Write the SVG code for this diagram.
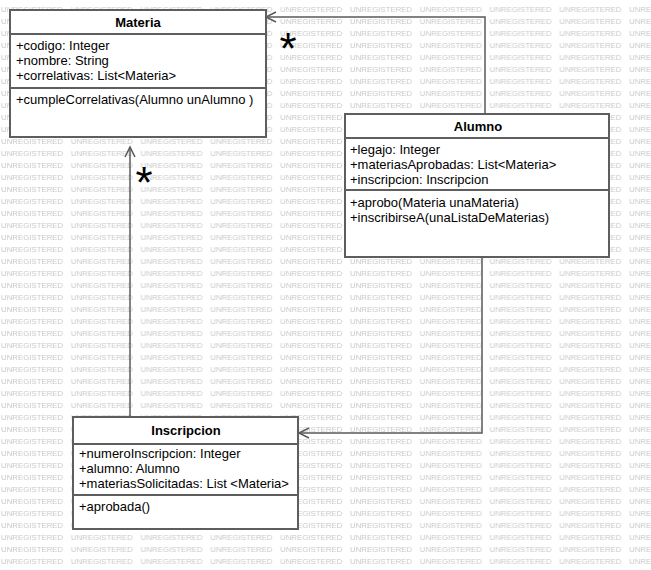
<svg xmlns="http://www.w3.org/2000/svg" width="651" height="570" viewBox="0 0 651 570">
<style>
.wm{font-family:"Liberation Sans",Arial,sans-serif;font-size:8px;fill:#c8c8c8}
.box{fill:#ffffff;stroke:#5e5e5e;stroke-width:2}
.sep{stroke:#5e5e5e;stroke-width:2;fill:none}
.t{font-family:"Liberation Sans",Arial,sans-serif;font-size:13px;fill:#000}
.title{font-family:"Liberation Sans",Arial,sans-serif;font-size:13px;font-weight:bold;fill:#000;text-anchor:middle}
.con{stroke:#5a5a5a;stroke-width:1.5;fill:none}
.star{font-family:"Liberation Sans",Arial,sans-serif;font-size:44px;fill:#000;text-anchor:middle}
</style>
<defs>
<pattern id="wmp" patternUnits="userSpaceOnUse" x="0" y="0" width="69.8" height="12">
<text class="wm" x="1" y="11.5" textLength="62" lengthAdjust="spacingAndGlyphs">UNREGISTERED</text>
</pattern>
</defs>
<rect x="0" y="0" width="651" height="570" fill="#ffffff"/>
<rect x="0" y="0" width="651" height="570" fill="url(#wmp)"/>
<g id="connectors">
<path class="con" d="M485,114 V17 H266"/>
<path class="con" d="M276,12 L266,17 L276,22"/>
<path class="con" d="M130,417 V147"/>
<path class="con" d="M125,157 L130,147 L135,157"/>
<path class="con" d="M482,257 V433 H299"/>
<path class="con" d="M309,428 L299,433 L309,438"/>
<text class="star" x="288" y="64">*</text>
<text class="star" x="144" y="198">*</text>
</g>
<g id="Materia">
<rect class="box" x="10" y="10" width="256" height="127"/>
<line class="sep" x1="10" y1="34" x2="266" y2="34"/>
<line class="sep" x1="10" y1="88" x2="266" y2="88"/>
<text class="title" x="138" y="27">Materia</text>
<text class="t" x="16" y="50">+codigo: Integer</text>
<text class="t" x="16" y="65">+nombre: String</text>
<text class="t" x="16" y="80">+correlativas: List&lt;Materia&gt;</text>
<text class="t" x="16" y="104">+cumpleCorrelativas(Alumno unAlumno )</text>
</g>
<g id="Alumno">
<rect class="box" x="345" y="114" width="264" height="143"/>
<line class="sep" x1="345" y1="138" x2="609" y2="138"/>
<line class="sep" x1="345" y1="190" x2="609" y2="190"/>
<text class="title" x="478" y="131">Alumno</text>
<text class="t" x="350" y="154">+legajo: Integer</text>
<text class="t" x="350" y="169">+materiasAprobadas: List&lt;Materia&gt;</text>
<text class="t" x="350" y="184">+inscripcion: Inscripcion</text>
<text class="t" x="350" y="207">+aprobo(Materia unaMateria)</text>
<text class="t" x="350" y="222">+inscribirseA(unaListaDeMaterias)</text>
</g>
<g id="Inscripcion">
<rect class="box" x="73" y="417" width="225" height="112"/>
<line class="sep" x1="73" y1="444" x2="298" y2="444"/>
<line class="sep" x1="73" y1="495" x2="298" y2="495"/>
<text class="title" x="186" y="435">Inscripcion</text>
<text class="t" x="79" y="458">+numeroInscripcion: Integer</text>
<text class="t" x="79" y="473">+alumno: Alumno</text>
<text class="t" x="79" y="488">+materiasSolicitadas: List &lt;Materia&gt;</text>
<text class="t" x="79" y="511">+aprobada()</text>
</g>
</svg>
